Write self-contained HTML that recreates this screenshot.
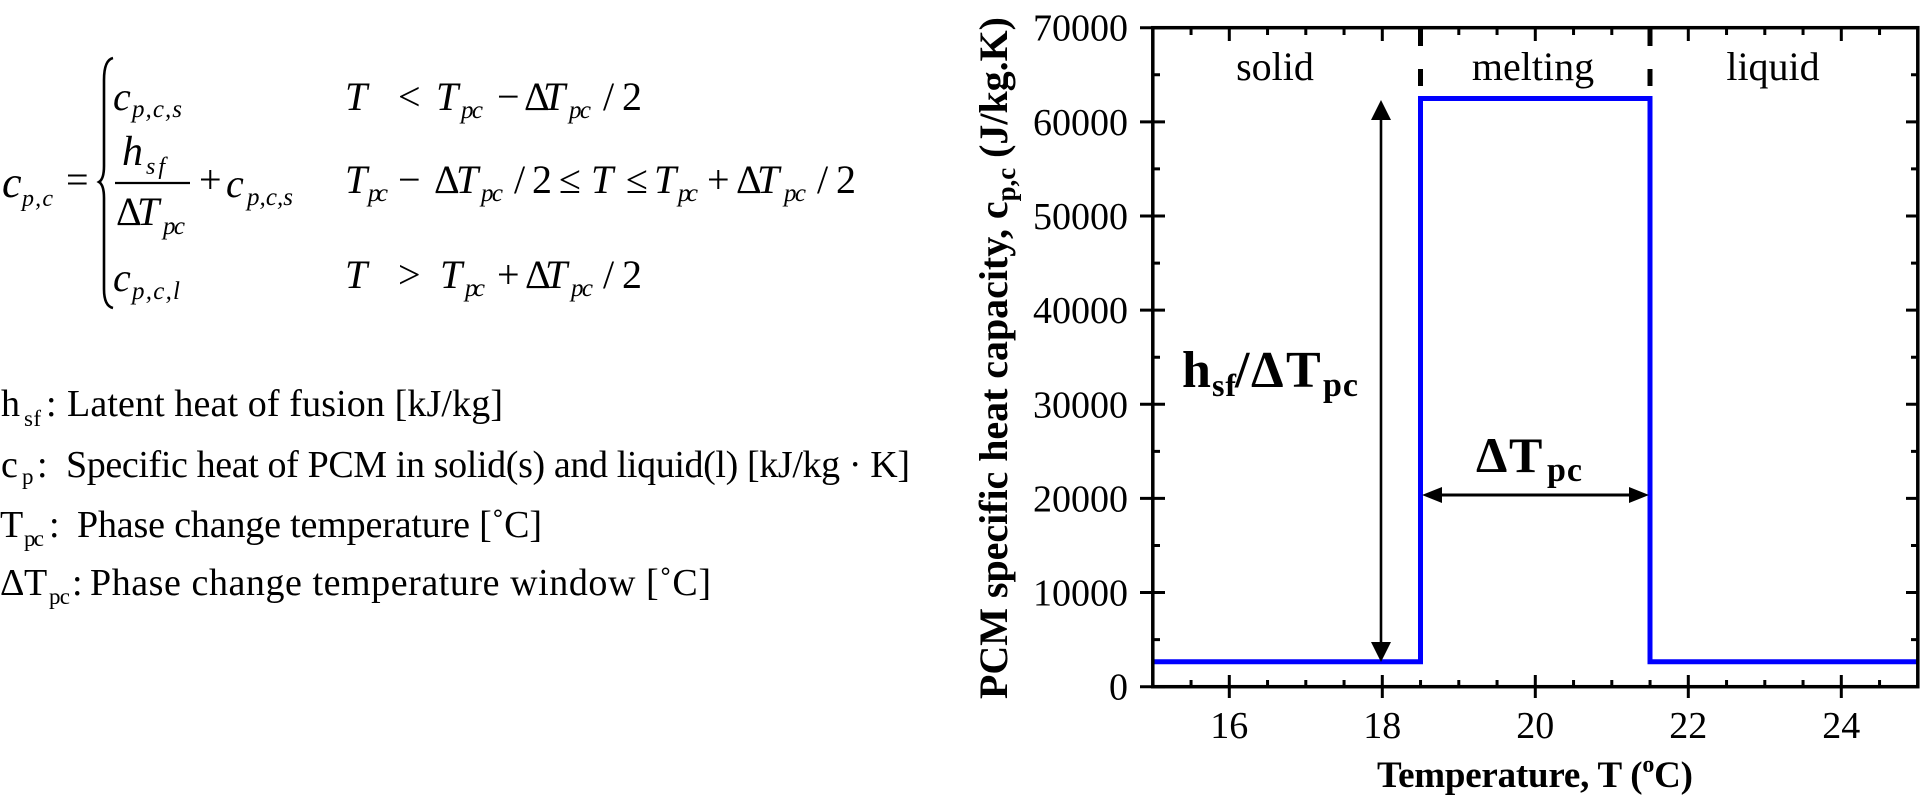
<!DOCTYPE html>
<html>
<head>
<meta charset="utf-8">
<style>
  html, body { margin: 0; padding: 0; background: #ffffff; }
  svg { display: block; }
  text { font-family: "Liberation Serif", "Times New Roman", serif; fill: #000; }
  .i { font-style: italic; }
  .b { font-weight: bold; }
</style>
</head>
<body>
<svg width="1927" height="802" viewBox="0 0 1927 802" xmlns="http://www.w3.org/2000/svg">
  <rect x="0" y="0" width="1927" height="802" fill="#ffffff"/>

  <!-- ================= EQUATION ================= -->
  <text x="2" y="197" class="i" font-size="44">c</text>
  <text x="22" y="206" class="i" font-size="24" textLength="31">p,c</text>
  <text x="66" y="193" font-size="40">=</text>

  <path d="M113,58 Q104,60 104,80 L104,166 Q104,179 99,182 Q104,185 104,198 L104,289 Q104,306 113,308"
        fill="none" stroke="#000" stroke-width="2.6"/>

  <!-- row 1 -->
  <text x="113" y="110" class="i" font-size="40">c</text>
  <text x="132" y="117" class="i" font-size="25" textLength="50">p,c,s</text>

  <text x="345" y="110" class="i" font-size="40">T</text>
  <text x="398" y="110" font-size="40">&lt;</text>
  <text x="436" y="110" class="i" font-size="40">T</text>
  <text x="461" y="118" class="i" font-size="25" textLength="22">pc</text>
  <text x="497" y="110" font-size="40">−</text>
  <text x="524" y="110" font-size="40">Δ</text>
  <text x="543" y="110" class="i" font-size="40">T</text>
  <text x="569" y="118" class="i" font-size="25" textLength="22">pc</text>
  <text x="603" y="110" font-size="40">/</text>
  <text x="622" y="110" font-size="40">2</text>

  <!-- row 2 : fraction -->
  <text x="122" y="165" class="i" font-size="42">h</text>
  <text x="146" y="174" class="i" font-size="24" textLength="19">sf</text>
  <line x1="115" y1="183" x2="190" y2="183" stroke="#000" stroke-width="2.2"/>
  <text x="116" y="225" font-size="40">Δ</text>
  <text x="137" y="225" class="i" font-size="40">T</text>
  <text x="163" y="234" class="i" font-size="25" textLength="22">pc</text>
  <text x="199" y="193" font-size="40">+</text>
  <text x="226" y="197" class="i" font-size="40">c</text>
  <text x="247" y="205" class="i" font-size="25" textLength="46">p,c,s</text>

  <text x="345" y="193" class="i" font-size="40">T</text>
  <text x="368" y="201" class="i" font-size="25" textLength="20">pc</text>
  <text x="398" y="193" font-size="40">−</text>
  <text x="434" y="193" font-size="40">Δ</text>
  <text x="456" y="193" class="i" font-size="40">T</text>
  <text x="481" y="201" class="i" font-size="25" textLength="22">pc</text>
  <text x="514" y="193" font-size="40">/</text>
  <text x="532" y="193" font-size="40">2</text>
  <text x="559" y="193" font-size="40">≤</text>
  <text x="591" y="193" class="i" font-size="40">T</text>
  <text x="626" y="193" font-size="40">≤</text>
  <text x="654" y="193" class="i" font-size="40">T</text>
  <text x="678" y="201" class="i" font-size="25" textLength="20">pc</text>
  <text x="707" y="193" font-size="40">+</text>
  <text x="736" y="193" font-size="40">Δ</text>
  <text x="757" y="193" class="i" font-size="40">T</text>
  <text x="784" y="201" class="i" font-size="25" textLength="22">pc</text>
  <text x="817" y="193" font-size="40">/</text>
  <text x="836" y="193" font-size="40">2</text>

  <!-- row 3 -->
  <text x="113" y="291" class="i" font-size="40">c</text>
  <text x="132" y="299" class="i" font-size="25" textLength="48">p,c,l</text>

  <text x="345" y="288" class="i" font-size="40">T</text>
  <text x="398" y="288" font-size="40">&gt;</text>
  <text x="440" y="288" class="i" font-size="40">T</text>
  <text x="465" y="296" class="i" font-size="25" textLength="20">pc</text>
  <text x="497" y="288" font-size="40">+</text>
  <text x="525" y="288" font-size="40">Δ</text>
  <text x="545" y="288" class="i" font-size="40">T</text>
  <text x="571" y="296" class="i" font-size="25" textLength="22">pc</text>
  <text x="603" y="288" font-size="40">/</text>
  <text x="622" y="288" font-size="40">2</text>

  <!-- ================= DEFINITIONS ================= -->
  <text x="1" y="416" font-size="38">h</text>
  <text x="24" y="426" font-size="23" textLength="17">sf</text>
  <text x="46" y="416" font-size="38">:</text>
  <text x="67" y="416" font-size="38" textLength="436">Latent heat of fusion [kJ/kg]</text>

  <text x="1" y="477" font-size="38">c</text>
  <text x="22" y="484" font-size="23">p</text>
  <text x="37" y="477" font-size="38">:</text>
  <text x="66" y="477" font-size="38" textLength="844">Specific heat of PCM in solid(s) and liquid(l) [kJ/kg · K]</text>

  <text x="0" y="537" font-size="38">T</text>
  <text x="24" y="546" font-size="23" textLength="20">pc</text>
  <text x="49" y="537" font-size="38">:</text>
  <text x="77" y="537" font-size="38" textLength="465">Phase change temperature [˚C]</text>

  <text x="0" y="595" font-size="38">Δ</text>
  <text x="24" y="595" font-size="38">T</text>
  <text x="49" y="604" font-size="23" textLength="21">pc</text>
  <text x="72" y="595" font-size="38">:</text>
  <text x="90" y="595" font-size="38" textLength="621">Phase change temperature window [˚C]</text>

  <!-- ================= CHART ================= -->
  <line x1="1420.5" y1="29" x2="1420.5" y2="98" stroke="#000" stroke-width="5" stroke-dasharray="17 23"/>
  <line x1="1650" y1="29" x2="1650" y2="98" stroke="#000" stroke-width="5" stroke-dasharray="17 23"/>

  <polyline points="1153,661.7 1420.5,661.7 1420.5,98.5 1650,98.5 1650,661.7 1918,661.7"
            fill="none" stroke="#0000ff" stroke-width="5" stroke-linejoin="miter"/>

  <line x1="1381" y1="116" x2="1381" y2="645" stroke="#000" stroke-width="2.6"/>
  <polygon points="1381,100 1371,120 1391,120" fill="#000"/>
  <polygon points="1381,662 1371,642 1391,642" fill="#000"/>

  <line x1="1438" y1="495" x2="1634" y2="495" stroke="#000" stroke-width="3"/>
  <polygon points="1422,495 1442,487 1442,503" fill="#000"/>
  <polygon points="1649,495 1629,487 1629,503" fill="#000"/>

  <rect x="1152.8" y="27.7" width="765" height="659" fill="none" stroke="#000" stroke-width="3.5"/>

  <path stroke="#000" stroke-width="3" fill="none" d="
    M1229.3,675V698 M1382.3,675V698 M1535.3,675V698 M1688.3,675V698 M1841.3,675V698
    M1191.05,680V687 M1267.55,680V687 M1305.8,680V687 M1344.05,680V687 M1420.55,680V687
    M1458.8,680V687 M1497.05,680V687 M1573.55,680V687 M1611.8,680V687 M1650.05,680V687
    M1726.55,680V687 M1764.8,680V687 M1803.05,680V687 M1879.55,680V687
    M1229.3,28V41 M1382.3,28V41 M1535.3,28V41 M1688.3,28V41 M1841.3,28V41
    M1191.05,28V35 M1267.55,28V35 M1305.8,28V35 M1344.05,28V35 M1420.55,28V35
    M1458.8,28V35 M1497.05,28V35 M1573.55,28V35 M1611.8,28V35 M1650.05,28V35
    M1726.55,28V35 M1764.8,28V35 M1803.05,28V35 M1879.55,28V35
    M1140,686.7H1165 M1140,592.56H1165 M1140,498.42H1165 M1140,404.28H1165
    M1140,310.14H1165 M1140,216H1165 M1140,121.86H1165 M1140,27.72H1165
    M1153,639.63H1160 M1153,545.49H1160 M1153,451.35H1160 M1153,357.21H1160
    M1153,263.07H1160 M1153,168.93H1160 M1153,74.79H1160
    M1906,592.56H1918 M1906,498.42H1918 M1906,404.28H1918
    M1906,310.14H1918 M1906,216H1918 M1906,121.86H1918
    M1911,639.63H1918 M1911,545.49H1918 M1911,451.35H1918 M1911,357.21H1918
    M1911,263.07H1918 M1911,168.93H1918 M1911,74.79H1918
  "/>

  <g font-size="38" text-anchor="end">
    <text x="1128" y="699.7">0</text>
    <text x="1128" y="605.6">10000</text>
    <text x="1128" y="511.4">20000</text>
    <text x="1128" y="417.3">30000</text>
    <text x="1128" y="323.1">40000</text>
    <text x="1128" y="229">50000</text>
    <text x="1128" y="134.9">60000</text>
    <text x="1128" y="40.7">70000</text>
  </g>

  <g font-size="38" text-anchor="middle">
    <text x="1229.3" y="738">16</text>
    <text x="1382.3" y="738">18</text>
    <text x="1535.3" y="738">20</text>
    <text x="1688.3" y="738">22</text>
    <text x="1841.3" y="738">24</text>
  </g>

  <g font-size="40" text-anchor="middle">
    <text x="1275" y="80">solid</text>
    <text x="1533" y="80">melting</text>
    <text x="1773" y="80">liquid</text>
  </g>

  <text x="1182" y="387" class="b" font-size="52">h</text>
  <text x="1212" y="396" class="b" font-size="32" textLength="24">sf</text>
  <text x="1235" y="387" class="b" font-size="52">/</text>
  <text x="1251" y="387" class="b" font-size="52">Δ</text>
  <text x="1286" y="387" class="b" font-size="52">T</text>
  <text x="1323" y="396" class="b" font-size="34" textLength="35">pc</text>

  <text x="1476" y="472" class="b" font-size="50">Δ</text>
  <text x="1509" y="472" class="b" font-size="50">T</text>
  <text x="1547" y="481" class="b" font-size="34" textLength="35">pc</text>

  <text x="1535" y="787" class="b" font-size="37" text-anchor="middle" textLength="316">Temperature, T (<tspan dy="-15" font-size="24">o</tspan><tspan dy="15">C)</tspan></text>

  <text transform="translate(1007,358) rotate(-90)" class="b" font-size="40" text-anchor="middle" textLength="682">PCM specific heat capacity, c<tspan dy="8" font-size="27">p,c</tspan><tspan dy="-8"> (J/kg.K)</tspan></text>
</svg>
</body>
</html>
